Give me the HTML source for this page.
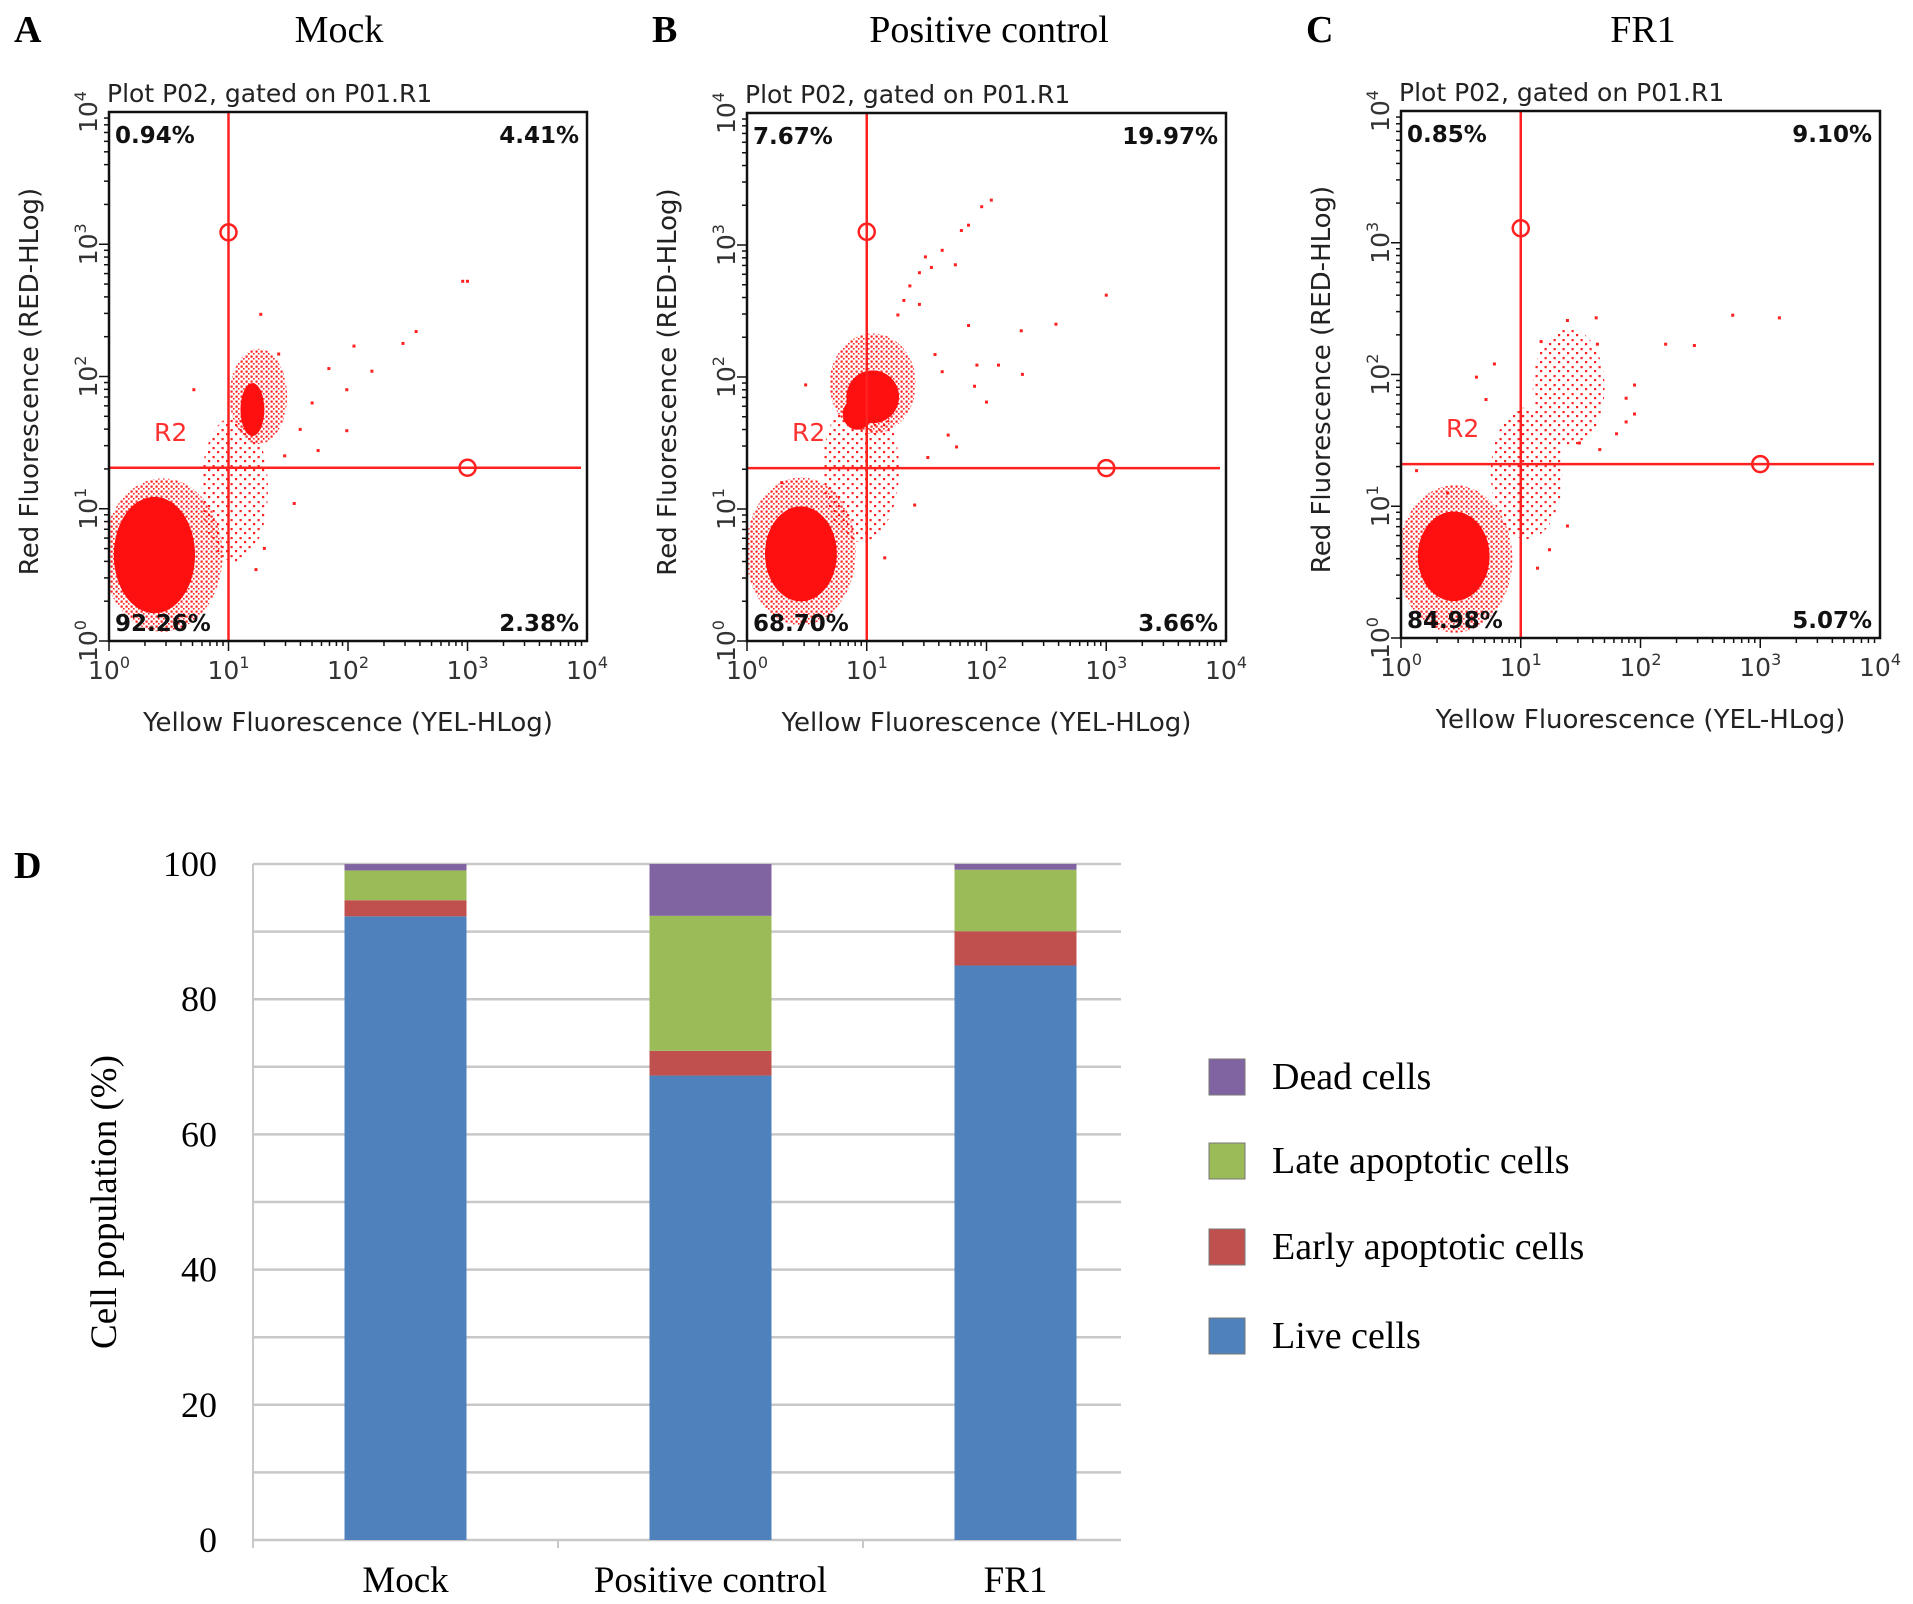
<!DOCTYPE html>
<html><head><meta charset="utf-8"><style>
body{margin:0;background:#fff;width:1913px;height:1604px;overflow:hidden}
svg{display:block}
</style></head><body>
<svg id="fig" width="1913" height="1604" viewBox="0 0 1913 1604" xmlns="http://www.w3.org/2000/svg">
<defs>
<pattern id="dots" width="5" height="5" patternUnits="userSpaceOnUse"><rect x="0.5" y="0.5" width="2.2" height="2.2" fill="#ff2020"/><rect x="3" y="3" width="1.6" height="1.6" fill="#ff2020"/></pattern>
<pattern id="dotsL" width="9" height="9" patternUnits="userSpaceOnUse"><rect x="1" y="1" width="2.2" height="2.2" fill="#ff2020"/><rect x="5.5" y="6" width="2.2" height="2.2" fill="#ff2020"/></pattern>
</defs>
<g id="scatter"></g>
<g id="bars"></g>
</svg>
<script>
const NS="http://www.w3.org/2000/svg";
function mk(p,t,a,txt){const e=document.createElementNS(NS,t);for(const k in a)e.setAttribute(k,a[k]);if(txt!==undefined)e.textContent=txt;p.appendChild(e);return e;}

/* ---------- flow cytometry data (log10 units) ---------- */
const panelLetters=["A","B","C"];
const panelTitles=["Mock","Positive control","FR1"];
const quadUL=["0.94%","7.67%","0.85%"];
const quadUR=["4.41%","19.97%","9.10%"];
const quadLL=["92.26%","68.70%","84.98%"];
const quadLR=["2.38%","3.66%","5.07%"];
const gateX=[1.0,1.0,1.0];
const gateY=[1.31,1.31,1.32];
const gateCircleTop=[3.09,3.10,3.11];
// dense blobs: [lx, ly, rx, ry]
const blobsA=[[0.38,0.65,0.34,0.44],[1.2,1.75,0.1,0.2]];
const blobsB=[[0.45,0.66,0.3,0.36],[1.05,1.85,0.22,0.2],[0.92,1.72,0.12,0.12]];
const blobsC=[[0.44,0.62,0.3,0.34]];
// sparse fringe regions: [lx, ly, rx, ry, density(0 dense,1 light)]
const fringeA=[[0.45,0.65,0.5,0.58,0],[1.05,1.15,0.28,0.55,1],[1.25,1.85,0.24,0.36,0]];
const fringeB=[[0.45,0.68,0.46,0.56,0],[0.95,1.3,0.32,0.55,1],[1.05,1.95,0.36,0.38,0]];
const fringeC=[[0.45,0.6,0.48,0.56,0],[1.05,1.25,0.3,0.5,1],[1.4,1.9,0.3,0.45,1]];
const pointsA=[[2.96,2.72],[3.0,2.72],[1.27,2.47],[2.57,2.34],[2.46,2.25],[2.05,2.23],[2.2,2.04],[1.84,2.06],[1.99,1.9],[1.99,1.59],[1.75,1.44],[1.47,1.4],[1.3,0.7],[1.23,0.54],[1.55,1.04],[0.71,1.9],[1.42,2.17],[1.6,1.6],[1.7,1.8]];
const pointsB=[[2.04,3.34],[1.96,3.29],[1.79,3.11],[1.85,3.15],[1.63,2.96],[1.49,2.91],[1.54,2.83],[1.44,2.79],[1.74,2.85],[1.36,2.69],[1.31,2.58],[1.44,2.55],[1.26,2.47],[3.0,2.62],[2.58,2.4],[2.29,2.35],[1.85,2.39],[1.92,2.09],[2.1,2.09],[2.3,2.02],[1.9,1.93],[2.0,1.81],[1.68,1.56],[1.75,1.47],[1.57,2.17],[1.63,2.04],[1.4,1.03],[1.51,1.39],[1.15,0.63],[0.49,1.94],[0.29,1.2]];
const pointsC=[[2.77,2.45],[3.16,2.43],[2.21,2.23],[2.45,2.22],[1.95,1.92],[1.88,1.82],[1.95,1.7],[1.88,1.64],[1.8,1.55],[1.63,2.43],[1.39,2.41],[1.64,2.23],[1.17,2.25],[0.78,2.08],[0.63,1.98],[0.71,1.81],[0.13,1.27],[0.39,1.1],[1.39,0.85],[1.24,0.67],[1.14,0.53],[1.66,1.43],[1.49,1.48]];
const xTickExp=["0","1","2","3","4"];

const boxes=[[109,112,478,529],[747,113,479,528],[1401,111,479,527]];
const blobs=[blobsA,blobsB,blobsC],fringes=[fringeA,fringeB,fringeC],pts=[pointsA,pointsB,pointsC];
const SG=document.getElementById('scatter');
const SANS='"DejaVu Sans","Liberation Sans",sans-serif';
const SERIF='"Liberation Serif",serif';

boxes.forEach((b,i)=>{
  const [x0,y0,w,h]=b;
  const sx=l=>x0+l*w/4, sy=l=>y0+h-l*h/4;
  const g=mk(SG,'g',{});
  
  
  const L=mk(g,'text',{x:x0-95,y:42,'font-family':SERIF,'font-size':38,'font-weight':'bold'},panelLetters[i]);
  
  const T=mk(g,'text',{x:[339,989,1643][i],y:42,'font-family':SERIF,'font-size':38,'text-anchor':'middle'},panelTitles[i]);
  
  const st=mk(g,'text',{x:x0-2,y:y0-10,'font-family':SANS,'font-size':25,fill:'#222'},'Plot P02, gated on P01.R1');
  
  const cid='clip'+i;
  const cp=mk(mk(g,'defs',{}),'clipPath',{id:cid});mk(cp,'rect',{x:x0,y:y0,width:w,height:h});
  const data=mk(g,'g',{'clip-path':'url(#'+cid+')'});
  fringes[i].forEach(f=>{
    const e=mk(data,'ellipse',{cx:sx(f[0]),cy:sy(f[1]),rx:f[2]*w/4,ry:f[3]*h/4,fill:f[4]?'url(#dotsL)':'url(#dots)'});
    
  });
  blobs[i].forEach(f=>{
    const e=mk(data,'ellipse',{cx:sx(f[0]),cy:sy(f[1]),rx:f[2]*w/4,ry:f[3]*h/4,fill:'#ff1010'});
    
  });
  pts[i].forEach(p=>{
    const e=mk(data,'rect',{x:sx(p[0])-1.5,y:sy(p[1])-1.5,width:3,height:3,fill:'#ff2020'});
    
  });
  const gx=sx(gateX[i]), gy=sy(gateY[i]);
  const gl=mk(g,'g',{stroke:'#ff2020','stroke-width':2.5,fill:'none'});
  
  mk(gl,'line',{x1:gx,y1:y0,x2:gx,y2:y0+h});
  mk(gl,'line',{x1:x0,y1:gy,x2:x0+w-6,y2:gy});
  mk(gl,'circle',{cx:gx,cy:sy(gateCircleTop[i]),r:8});
  mk(gl,'circle',{cx:sx(3),cy:gy,r:8});
  const r2=mk(g,'text',{x:x0+45,y:gy-27,'font-family':SANS,'font-size':25,fill:'#ff3030'},'R2');
  
  const bx=mk(g,'rect',{x:x0,y:y0,width:w,height:h,fill:'none',stroke:'#111','stroke-width':2.5});
  
  const qs=[[quadUL[i],x0+6,y0+31,'start'],[quadUR[i],x0+w-8,y0+31,'end'],[quadLL[i],x0+6,y0+h-10,'start'],[quadLR[i],x0+w-8,y0+h-10,'end']];
  qs.forEach(q=>{const t=mk(g,'text',{x:q[1],y:q[2],'text-anchor':q[3],'font-family':SANS,'font-size':23,'font-weight':'bold',fill:'#111'},q[0]);
    });
  const tk=mk(g,'g',{stroke:'#111','stroke-width':1.5});
  for(let d=0;d<4;d++)for(let m=1;m<10;m++){
    const l=d+Math.log10(m),len=m==1?10:5;
    mk(tk,'line',{x1:sx(l),y1:y0+h,x2:sx(l),y2:y0+h+len});
    mk(tk,'line',{x1:x0,y1:sy(l),x2:x0-len,y2:sy(l)});
  }
  xTickExp.forEach((e,k)=>{
    const t=mk(g,'text',{x:sx(k),y:y0+h+38,'text-anchor':'middle','font-family':SANS,'font-size':25,fill:'#333'});
    
    t.innerHTML='10<tspan dy="-11" font-size="16">'+e+'</tspan>';
    const ty=mk(g,'text',{transform:`translate(${x0-12},${sy(k)}) rotate(-90)`,'text-anchor':'middle','font-family':SANS,'font-size':25,fill:'#333'});
    
    ty.innerHTML='10<tspan dy="-11" font-size="16">'+e+'</tspan>';
  });
  const xt=mk(g,'text',{x:x0+w/2,y:y0+h+90,'text-anchor':'middle','font-family':SANS,'font-size':26,fill:'#222'},'Yellow Fluorescence (YEL-HLog)');
  
  const yt=mk(g,'text',{transform:`translate(${x0-71},${y0+h/2+5}) rotate(-90)`,'text-anchor':'middle','font-family':SANS,'font-size':26,fill:'#222'},'Red Fluorescence (RED-HLog)');
  
});

/* ---------- stacked bar chart ---------- */
const categories=["Mock","Positive control","FR1"];
const liveCells=[92.26,68.70,84.98];
const earlyApoptotic=[2.38,3.66,5.07];
const lateApoptotic=[4.41,19.97,9.10];
const deadCells=[0.94,7.67,0.85];
const yTicks=[0,20,40,60,80,100];
const seriesNames=["Live cells","Early apoptotic cells","Late apoptotic cells","Dead cells"];
const seriesColors=["#4f81bd","#c0504d","#9bbb59","#8064a2"];
const seriesData=[liveCells,earlyApoptotic,lateApoptotic,deadCells];

const BG=document.getElementById('bars');
const PX0=253,GX1=1121,PY0=1540,PY1=864,band=305;
const yS=v=>PY0-(v/100)*(PY0-PY1);
const xC=i=>PX0+band*(i+0.5);
const bw=122;
const D=mk(BG,'text',{x:14,y:878,'font-family':SERIF,'font-size':38,'font-weight':'bold'},'D');

for(let v=0;v<=100;v+=10){
  const gl=mk(BG,'line',{x1:PX0,y1:yS(v),x2:GX1,y2:yS(v),stroke:'#c8c8c8','stroke-width':2.5});
  
}
const ax=mk(BG,'line',{x1:PX0,y1:yS(0),x2:PX0,y2:yS(100),stroke:'#c8c8c8','stroke-width':2});

for(let i=0;i<categories.length;i++){
  const t=mk(BG,'line',{x1:PX0+band*i,y1:PY0,x2:PX0+band*i,y2:PY0+8,stroke:'#c8c8c8','stroke-width':2});
  
}
yTicks.forEach(v=>{
  const t=mk(BG,'text',{x:217,y:yS(v)+12,'text-anchor':'end','font-family':SERIF,'font-size':36},String(v));
  
});
categories.forEach((c,i)=>{
  let base=0;
  seriesData.forEach((s,k)=>{
    const r=mk(BG,'rect',{x:xC(i)-bw/2,y:yS(base+s[i]),width:bw,height:yS(base)-yS(base+s[i]),fill:seriesColors[k]});
    
    
    base+=s[i];
  });
  const t=mk(BG,'text',{x:xC(i),y:1592,'text-anchor':'middle','font-family':SERIF,'font-size':37},c);
  
});
const yt=mk(BG,'text',{transform:'translate(116,1202) rotate(-90)','text-anchor':'middle','font-family':SERIF,'font-size':37},'Cell population (%)');

const legY=[1336,1247,1161,1077];
seriesNames.forEach((n,k)=>{
  const lg=mk(BG,'g',{});
  
  mk(lg,'rect',{x:1209,y:legY[k]-18,width:36,height:36,fill:seriesColors[k],stroke:'#777','stroke-width':1});
  mk(lg,'text',{x:1272,y:legY[k]+12,'font-family':SERIF,'font-size':38},n);
});
</script>
</body></html>
